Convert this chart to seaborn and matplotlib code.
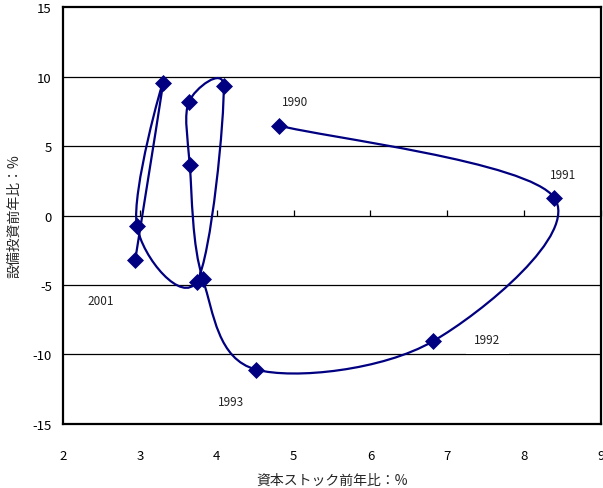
import numpy as np
import matplotlib
matplotlib.use("Agg")
import matplotlib.pyplot as plt
from matplotlib.path import Path
from matplotlib.patches import PathPatch
import seaborn as sns
import pandas as pd

years = [1990, 1991, 1992, 1993, 1994, 1995, 1996, 1997, 1998, 1999, 2000, 2001]
capital_stock = [4.81, 8.39, 6.81, 4.51, 3.82, 3.65, 3.64, 4.09, 3.74, 2.96, 3.30, 2.94]
investment = [6.47, 1.29, -9.06, -11.08, -4.60, 3.60, 8.20, 9.35, -4.75, -0.72, 9.50, -3.17]

label_years = [1990, 1991, 1992, 1993, 2001]
label_x = [5.02, 8.50, 7.52, 4.19, 2.49]
label_y = [8.2, 2.95, -8.9, -13.4, -6.1]

navy = "#000080"

sns.set_theme(style="white")
plt.rcParams['font.family'] = ['Noto Sans CJK JP', 'DejaVu Sans']

df = pd.DataFrame({"x": capital_stock, "y": investment, "year": years})

fig = plt.figure(figsize=(6.03, 4.89), dpi=100)
ax = fig.add_axes([0.1045, 0.1309, 0.8922, 0.8527])
ax.set_xlim(2, 9)
ax.set_ylim(-15, 15)

# smoothed line the excel way: bezier arms of 1/6 the chord, clamped to half the segment
scale = np.array([537 / 7, 417 / 30])  # pixels per data unit
pts = df[["x", "y"]].to_numpy()
verts = [pts[0]]
codes = [Path.MOVETO]
n = len(pts)
for i in range(n - 1):
    p0 = pts[i - 1] if i > 0 else pts[i]
    p1 = pts[i]
    p2 = pts[i + 1]
    p3 = pts[i + 2] if i + 2 < n else pts[i + 1]
    seg = np.linalg.norm((p2 - p1) * scale)
    a1 = (p2 - p0) / 6
    a2 = (p3 - p1) / 6
    l1 = np.linalg.norm(a1 * scale)
    l2 = np.linalg.norm(a2 * scale)
    if l1 > seg / 2:
        a1 = a1 * (seg / 2) / l1
    if l2 > seg / 2:
        a2 = a2 * (seg / 2) / l2
    verts += [p1 + a1, p2 - a2, p2]
    codes += [Path.CURVE4] * 3
ax.add_patch(PathPatch(Path(verts, codes), facecolor="none", edgecolor=navy, lw=1.6, zorder=3))

sns.scatterplot(data=df, x="x", y="y", marker="D", s=75, color=navy, edgecolor=navy,
                linewidth=0, ax=ax, zorder=4, legend=False)

for yr, lx, ly in zip(label_years, label_x, label_y):
    bbox = None
    if yr == 1992:
        bbox = dict(facecolor="white", edgecolor="none", pad=6)
    ax.text(lx, ly, str(yr), ha="center", va="center", fontsize=8.5, color="#222222",
            bbox=bbox, zorder=2)

ax.set_xticks(range(2, 10))
ax.set_yticks(range(-15, 16, 5))
ax.set_yticklabels([str(v) for v in range(-15, 16, 5)])
for v in [-10, -5, 0, 5, 10]:
    ax.axhline(v, color="black", lw=0.9, zorder=1)
ax.tick_params(axis="x", length=0, pad=18, labelsize=9.5, colors="black")
ax.tick_params(axis="y", length=0, pad=8, labelsize=9.5, colors="black")

# small tick marks on the zero line
ax2 = ax.twiny()
ax2.set_xlim(2, 9)
ax2.set_xticks(range(2, 10))
ax2.spines["bottom"].set_position(("data", 0))
for s in ax2.spines.values():
    s.set_visible(False)
ax2.xaxis.set_ticks_position("bottom")
ax2.tick_params(axis="x", direction="in", length=4, width=0.9, color="black", labelbottom=False, labeltop=False)

for s in ax.spines.values():
    s.set_visible(True)
    s.set_color("black")
    s.set_linewidth(1.6)

ax.set_xlabel("資本ストック前年比：%", fontsize=10, labelpad=8)
ax.set_ylabel("設備投資前年比：%", fontsize=10, labelpad=8)

fig.savefig("out.png", dpi=100)
